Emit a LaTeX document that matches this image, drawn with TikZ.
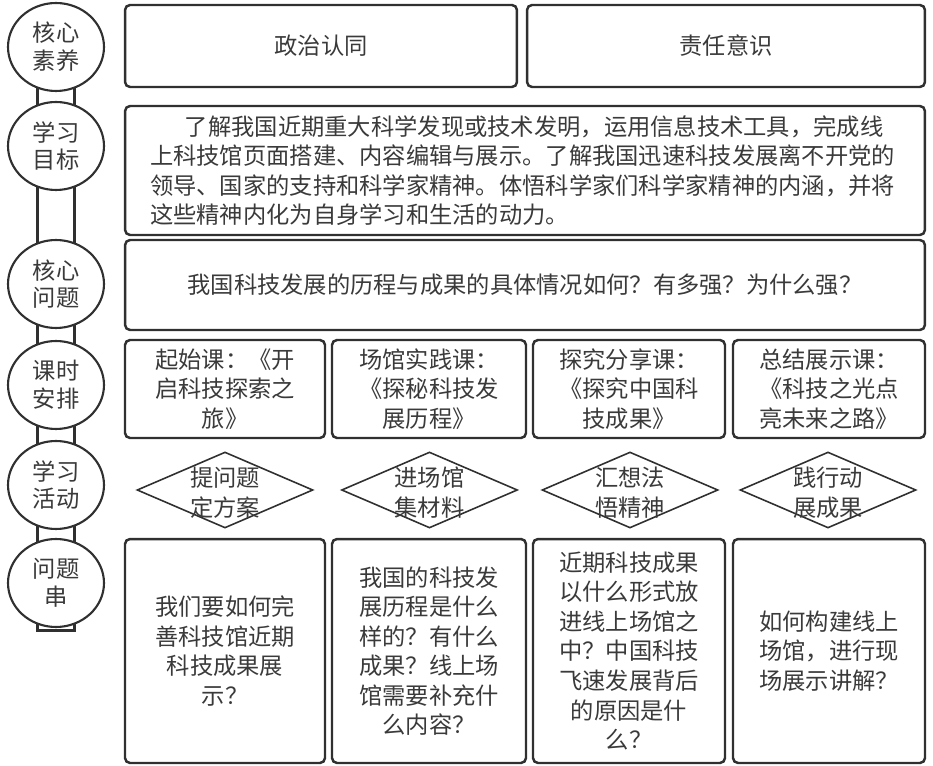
\documentclass[tikz,border=0pt]{standalone}
\usepackage{fontspec}
\setmainfont{Noto Sans CJK SC}
\usepackage{tikz}
\usetikzlibrary{shapes.geometric, backgrounds}
\definecolor{framegray}{HTML}{303030}
\definecolor{inkgray}{HTML}{3a3a3a}

\begin{document}
\begin{tikzpicture}[x=0.02cm, y=-0.02cm, text=inkgray, font=\fontsize{13.25}{16.8}\selectfont,
	cardbox/.style={draw=framegray, line width=1.4pt, rounded corners=0.1cm, inner sep=0pt, align=center},
	tagball/.style={ellipse, draw=framegray, line width=1.2pt, fill=white, inner sep=0pt, minimum width=1.92cm, minimum height=1.76cm, align=center, font=\fontsize{13.25}{15.8}\selectfont},
	actdiamond/.style={diamond, draw=framegray, line width=0.9pt, inner sep=0pt, minimum width=3.52cm, minimum height=1.52cm}]
	\useasboundingbox (0,0) rectangle (933,766);
	\foreach \i/\y/\lbl in {1/47/{核心\\素养}, 2/146/{学习\\目标}, 3/284/{核心\\问题}, 4/385/{课时\\安排}, 5/485/{学习\\活动}, 6/583/{问题\\串}} {
		\node[tagball] (l\i) at (56,\y) {\lbl};
	}
	\begin{scope}[on background layer]
		\draw[framegray, line width=1.2pt] ([xshift=-0.37cm]l1.center) rectangle ([xshift=0.37cm, yshift=-0.05cm]l6.south);
	\end{scope}
	\node[cardbox, minimum width=7.84cm, minimum height=1.64cm] (sy1) at (321,46) {政治认同};
	\node[cardbox, minimum width=7.96cm, minimum height=1.64cm] (sy2) at (726,46) {责任意识};
	\node[cardbox, text width=15cm, inner xsep=0.5cm, minimum height=2.58cm, align=left] (mb) at (525,170.5) {\hspace*{1.5em}了解我国近期重大科学发现或技术发明，运用信息技术工具，完成线\\上科技馆页面搭建、内容编辑与展示。了解我国迅速科技发展离不开党的\\领导、国家的支持和科学家精神。体悟科学家们科学家精神的内涵，并将\\这些精神内化为自身学习和生活的动力。};
	\node[cardbox, minimum width=16cm, minimum height=1.8cm] (wt) at (525,285) {我国科技发展的历程与成果的具体情况如何？有多强？为什么强？};
	\foreach \i/\x/\w/\txt in {1/225/200/{起始课：《开\\启科技探索之\\旅》}, 2/429/194/{场馆实践课：\\《探秘科技发\\展历程》}, 3/629/192/{探究分享课：\\《探究中国科\\技成果》}, 4/829/192/{总结展示课：\\《科技之光点\\亮未来之路》}} {
		\node[cardbox, minimum width=\w*0.02cm, minimum height=1.96cm] (ks\i) at (\x,389) {\txt};
	}
	\foreach \i/\x/\txt in {1/225/{提问题\\定方案}, 2/429.5/{进场馆\\集材料}, 3/630/{汇想法\\悟精神}, 4/828/{践行动\\展成果}} {
		\node[actdiamond] (hd\i) at (\x,490) {};
		\node[align=center, inner sep=0pt] (hdt\i) at ([yshift=-0.05cm]hd\i.center) {\txt};
	}
	\foreach \i/\x/\w/\txt in {1/225/200/{我们要如何完\\善科技馆近期\\科技成果展\\示？}, 2/429/194/{我国的科技发\\展历程是什么\\样的？有什么\\成果？线上场\\馆需要补充什\\么内容？}, 3/629/192/{近期科技成果\\以什么形式放\\进线上场馆之\\中？中国科技\\飞速发展背后\\的原因是什\\么？}, 4/829/192/{如何构建线上\\场馆，进行现\\场展示讲解？}} {
		\node[cardbox, minimum width=\w*0.02cm, minimum height=4.48cm] (wc\i) at (\x,651) {\txt};
	}
\end{tikzpicture}
\end{document}
